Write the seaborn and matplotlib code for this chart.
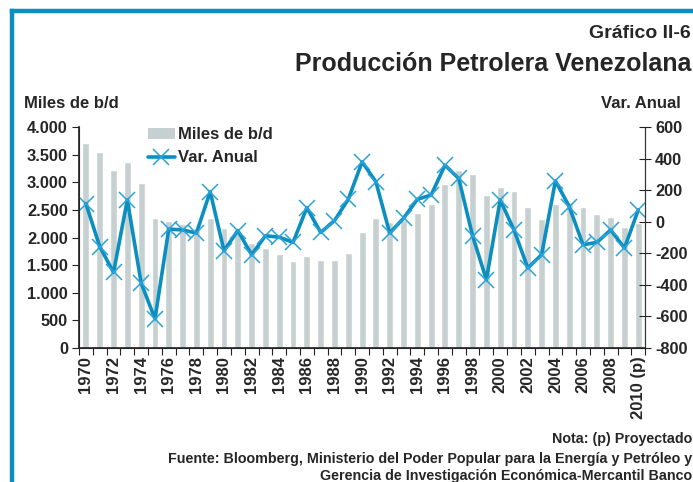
import numpy as np
import pandas as pd
import seaborn as sns
import matplotlib.pyplot as plt
from matplotlib.lines import Line2D
from matplotlib.patches import Patch
from matplotlib.ticker import FuncFormatter

sns.set_theme(style="ticks")
plt.rcParams['font.family'] = ['Liberation Sans', 'DejaVu Sans']
plt.rcParams['font.weight'] = 'bold'
plt.rcParams['axes.unicode_minus'] = False

years = list(range(1970, 2011))
produccion = [3710, 3550, 3230, 3370, 2980, 2350, 2300, 2240, 2170, 2360,
              2170, 2100, 1900, 1810, 1710, 1570, 1660, 1590, 1590, 1720,
              2100, 2360, 2280, 2320, 2440, 2610, 2970, 3230, 3150, 2770,
              2910, 2850, 2560, 2340, 2610, 2650, 2550, 2420, 2370, 2190,
              2270]
var_anual = [115, -157, -321, 138, -388, -615, -47, -52, -72, 190,
             -184, -56, -209, -89, -98, -131, 89, -68, 7, 142,
             379, 253, -72, 22, 142, 169, 358, 274, -89, -367,
             138, -52, -293, -209, 259, 96, -146, -131, -52, -167,
             75]
labels = [str(y) if (y - 1970) % 2 == 0 else "" for y in years]
labels[-1] = "2010 (p)"

bar_color = "#c6d0d0"
line_color = "#0b8fc0"
mark_color = "#2ba3d8"

df = pd.DataFrame({"pos": np.arange(len(years)), "anio": [str(y) for y in years],
                   "prod": produccion, "var": var_anual})

fig = plt.figure(figsize=(6.93, 4.82), dpi=100)
ax = fig.add_axes([0.114, 0.278, 0.817, 0.4585])

sns.barplot(data=df, x="anio", y="prod", color=bar_color, width=0.5,
            saturation=1, ax=ax)
ax.set_ylim(0, 4000)
ax.set_xlim(-0.5, len(years) - 0.5)
ax.set_yticks(range(0, 4001, 500))
ax.yaxis.set_major_formatter(FuncFormatter(lambda v, p: f"{int(v):,}".replace(",", ".")))
ax.set_xticks(df["pos"])
ax.set_xticklabels(labels, rotation=90, fontsize=12, fontweight="bold")
ax.set_xticks(np.arange(-0.5, len(years), 1), minor=True)
ax.tick_params(axis="x", which="major", length=0, pad=6)
ax.tick_params(axis="x", which="minor", length=5, width=0.8, color="#222222", direction="out")
ax.tick_params(axis="y", length=5, width=0.8, color="#222222", labelsize=11.8, pad=3)
for t in ax.get_yticklabels():
    t.set_fontweight("bold")
ax.set_xlabel("")
ax.set_ylabel("")
ax.spines["top"].set_visible(False)
for s in ["left", "bottom", "right"]:
    ax.spines[s].set_color("#333333")
    ax.spines[s].set_linewidth(0.8)

ax2 = ax.twinx()
sns.lineplot(data=df, x="pos", y="var", color=line_color, linewidth=2.6, ax=ax2)
ax2.plot(df["pos"], df["var"], linestyle="none", marker="x", markersize=11,
         markeredgewidth=1.1, color=mark_color)
ax2.set_ylim(-800, 600)
ax2.set_yticks(range(-800, 601, 200))
ax2.tick_params(axis="y", direction="inout", length=8, width=0.8, color="#222222",
                labelsize=11.8, pad=3)
for t in ax2.get_yticklabels():
    t.set_fontweight("bold")
ax2.set_ylabel("")
ax2.set_xlabel("")
ax2.spines["top"].set_visible(False)
ax2.spines["right"].set_color("#333333")
ax2.spines["right"].set_linewidth(0.8)
ax2.set_xlim(-0.5, len(years) - 0.5)

handles = [Patch(facecolor=bar_color, edgecolor="none"),
           Line2D([], [], color=line_color, linewidth=2.6, marker="x",
                  markersize=11, markeredgecolor=mark_color, markeredgewidth=1.1)]
fig.legend(handles, ["Miles de b/d", "Var. Anual"], loc="upper left",
           bbox_to_anchor=(0.204, 0.75), frameon=False,
           prop={"weight": "bold", "size": 12}, handlelength=1.6,
           handletextpad=0.2, labelspacing=0.5, borderaxespad=0)

fig.text(0.997, 0.93, "Gráfico II-6", ha="right", va="center", fontsize=14, fontweight="bold")
fig.text(0.998, 0.868, "Producción Petrolera Venezolana", ha="right", va="center",
         fontsize=18, fontweight="bold")
fig.text(0.035, 0.785, "Miles de b/d", ha="left", va="center", fontsize=12, fontweight="bold")
fig.text(0.982, 0.785, "Var. Anual", ha="right", va="center", fontsize=12, fontweight="bold")
fig.text(0.999, 0.089, "Nota: (p) Proyectado", ha="right", va="center", fontsize=10.3, fontweight="bold")
fig.text(0.999, 0.047, "Fuente: Bloomberg, Ministerio del Poder Popular para la Energía y Petróleo y",
         ha="right", va="center", fontsize=10.3, fontweight="bold")
fig.text(0.999, 0.012, "Gerencia de Investigación Económica-Mercantil Banco", ha="right",
         va="center", fontsize=10.3, fontweight="bold")

# blue frame, only left and top visible
fig.add_artist(Line2D([0.0166, 0.0166], [0, 0.978], transform=fig.transFigure,
                      color="#0a8fc2", linewidth=3.2, solid_capstyle="projecting"))
fig.add_artist(Line2D([0.0166, 1.0], [0.978, 0.978], transform=fig.transFigure,
                      color="#0a8fc2", linewidth=3.2, solid_capstyle="projecting"))

fig.savefig("out.png", dpi=100)
